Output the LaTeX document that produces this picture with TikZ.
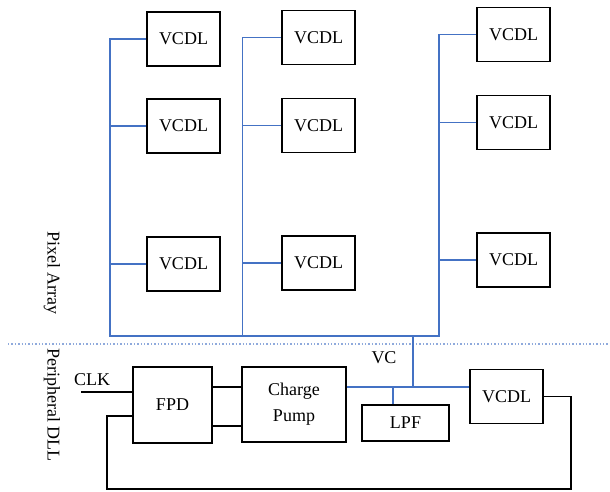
\documentclass[tikz,border=0pt]{standalone}
\usepackage{fontspec,tikz}
\setmainfont{Liberation Serif}
\definecolor{busblue}{HTML}{4472C4}
\definecolor{dotblue}{HTML}{8FAADC}
\tikzset{
  blk/.style={draw,line width=1.6pt,inner sep=0pt,minimum width=73pt,minimum height=54pt,font=\fontsize{18}{20}\selectfont},
  bus/.style={draw=busblue,line width=1.6pt},
  wire/.style={line width=1.6pt},
  lbl/.style={inner sep=0pt,font=\fontsize{18}{20}\selectfont}
}
\begin{document}
\begin{tikzpicture}[x=1pt,y=-1pt]
\path[use as bounding box] (0,0) rectangle (610.0,492.0);
\node[blk] (va1) at (183.5,39) {VCDL};
\node[blk] (va2) at (183.5,126) {VCDL};
\node[blk] (va3) at (183.5,264) {VCDL};
\node[blk] (vb1) at (318.5,37.5) {VCDL};
\node[blk] (vb2) at (318.5,125.5) {VCDL};
\node[blk] (vb3) at (318.5,263) {VCDL};
\node[blk] (vc1) at (513.5,34.5) {VCDL};
\node[blk] (vc2) at (513.5,122.5) {VCDL};
\node[blk] (vc3) at (513.5,260) {VCDL};
\coordinate (sa) at (110,336);
\coordinate (sb) at (242.5,336);
\coordinate (sc) at (439,336);
\coordinate (vctap) at (413,336);
\draw[bus] (va1.west) -- (va1.west -| sa) -- (sa) -- (sc) -- (vc1.west -| sc) -- (vc1.west);
\draw[bus] (va2.west) -- (va2.west -| sa);
\draw[bus] (va3.west) -- (va3.west -| sa);
\draw[bus] (vb1.west) -- (vb1.west -| sb) -- (sb);
\draw[bus] (vb2.west) -- (vb2.west -| sb);
\draw[bus] (vb3.west) -- (vb3.west -| sb);
\draw[bus] (vc2.west) -- (vc2.west -| sc);
\draw[bus] (vc3.west) -- (vc3.west -| sc);
\draw[dotblue,line width=1.4pt,dotted] (8,344) -- (610,344);
\node[lbl,rotate=-90] (pixarr) at (52,273) {Pixel Array};
\node[lbl,rotate=-90] (peri) at (52,405) {Peripheral DLL};
\node[blk,minimum width=79pt,minimum height=76pt] (fpd) at (172.5,405) {FPD};
\node[blk,minimum width=104pt,minimum height=75pt,align=center,font=\fontsize{18}{26}\selectfont] (cp) at (294,404.5) {Charge\\Pump};
\node[blk,minimum width=87pt,minimum height=36pt] (lpf) at (405.5,423) {LPF};
\node[blk] (vd) at (506.5,396.5) {VCDL};
\node[lbl] (vclbl) at (384,358) {VC};
\node[lbl] (clklbl) at (92,380) {CLK};
\coordinate (clkin) at (81,392);
\coordinate (vcnode) at (413,387);
\coordinate (lpfjoin) at (393,387);
\coordinate (fbr) at (571,489);
\coordinate (fbl) at (107,489);
\draw[bus] (vctap) -- (vcnode);
\draw[bus] (vcnode -| cp.east) -- (vcnode -| vd.west);
\draw[bus] (lpfjoin) -- (lpfjoin |- lpf.north);
\draw[wire] (clkin) -- (clkin -| fpd.west);
\draw[wire] ([yshift=18pt]fpd.east) -- ([yshift=18pt]fpd.east -| cp.west);
\draw[wire] ([yshift=-21pt]fpd.east) -- ([yshift=-21pt]fpd.east -| cp.west);
\draw[wire] (vd.east) -- (vd.east -| fbr) -- (fbr) -- (fbl) -- ([yshift=-11pt]fpd.west -| fbl) -- ([yshift=-11pt]fpd.west);
\end{tikzpicture}
\end{document}
